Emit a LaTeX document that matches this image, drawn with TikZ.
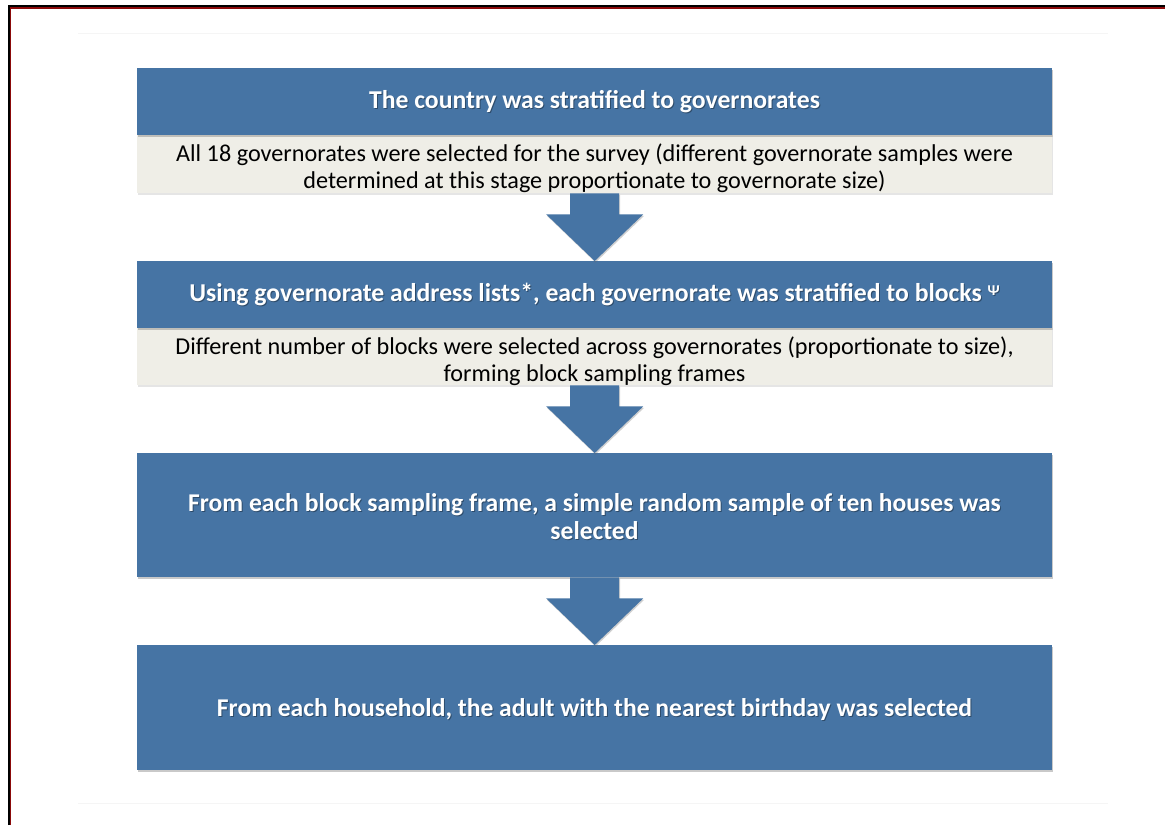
\documentclass[tikz,border=0pt]{standalone}
\usepackage{fontspec}
\setmainfont{Carlito}
\usetikzlibrary{shadows,calc}
\definecolor{boxblue}{HTML}{4674A4}
\definecolor{boxlight}{HTML}{EFEEE7}
\definecolor{bordred}{HTML}{8B0A0A}
\tikzset{
  headbox/.style={fill=boxblue, draw=none, anchor=north west, inner sep=0pt,
    minimum width=915pt, drop shadow={shadow xshift=0.8pt, shadow yshift=-1.5pt, opacity=0.35, fill=black!60}},
  subbox/.style={fill=boxlight, draw=none, anchor=north west, inner sep=0pt,
    minimum width=915pt, drop shadow={shadow xshift=0.8pt, shadow yshift=-1.5pt, opacity=0.25, fill=black!40}},
  headtxt/.style={text=white, font=\bfseries\fontsize{25.7}{28}\selectfont, align=center, inner sep=0pt},
  bigtxt/.style={text=white, font=\bfseries\fontsize{25.6}{28}\selectfont, align=center, inner sep=0pt},
  shtxt/.style={text=black, opacity=0.35},
  subtxt/.style={text=black, font=\fontsize{24.2}{27}\selectfont, align=center, inner sep=0pt},
  arrowfill/.style={fill=boxblue, drop shadow={shadow xshift=0.8pt, shadow yshift=-1.5pt, opacity=0.3, fill=black!60}},
}
\newcommand\flowarrow[2]{%
  \fill[arrowfill] ($(#1.south)+(-24.5,0)$) -- ($(#1.south)+(24.5,0)$) -- ($(#1.south)+(24.5,21)$)
    -- ($(#1.south)+(48.5,21)$) -- (#2.north) -- ($(#1.south)+(-48.5,21)$) -- ($(#1.south)+(-24.5,21)$) -- cycle;}
\newcommand\psimark{\raisebox{0.45ex}{\fontsize{15}{15}\selectfont Ψ}}
\begin{document}
\begin{tikzpicture}[x=1pt,y=-1pt]
\useasboundingbox (0,0) rectangle (1165,825);
\fill[white] (0,0) rectangle (1165,825);
% page border
\draw[black, line width=2.5pt] (9,825) -- (9,6.2) -- (1165,6.2);
\draw[bordred, line width=1.2pt] (10.8,825) -- (10.8,8) -- (1165,8);
% faint lines
\draw[black!4, line width=0.8pt] (78,33) -- (1108,33);
\draw[black!4, line width=0.8pt] (78,803) -- (1108,803);

% box 1
\node[subbox, minimum height=58pt] (s1) at (137,135) {};
\node[headbox, minimum height=67pt] (h1) at (137,68) {};
\node[headtxt, shtxt] (h1s) at (595.5,102.5) {The country was stratified to governorates};
\node[headtxt] (h1t) at (594.5,101.5) {The country was stratified to governorates};
\node[subtxt] (s1t) at (594.5,168) {All 18 governorates were selected for the survey (different governorate samples were\\determined at this stage proportionate to governorate size)};

% box 2
\node[subbox, minimum height=57pt] (s2) at (137,328) {};
\node[headbox, minimum height=67pt] (h2) at (137,261) {};
\node[headtxt, shtxt] (h2s) at (595.5,295.5) {Using governorate address lists*, each governorate was stratified to blocks \psimark};
\node[headtxt] (h2t) at (594.5,294.5) {Using governorate address lists*, each governorate was stratified to blocks \psimark};
\node[subtxt] (s2t) at (594.5,361) {Different number of blocks were selected across governorates (proportionate to size),\\forming block sampling frames};

% box 3
\node[headbox, minimum height=124pt] (b3) at (137,453) {};
\node[bigtxt, shtxt] (b3s) at (595.5,518) {From each block sampling frame, a simple random sample of ten houses was\\selected};
\node[bigtxt] (b3t) at (594.5,517) {From each block sampling frame, a simple random sample of ten houses was\\selected};

% box 4
\node[headbox, minimum height=125pt] (b4) at (137,645) {};
\node[bigtxt, shtxt] (b4s) at (595.5,710.5) {From each household, the adult with the nearest birthday was selected};
\node[bigtxt] (b4t) at (594.5,709.5) {From each household, the adult with the nearest birthday was selected};

% arrows
\flowarrow{s1}{h2}
\flowarrow{s2}{b3}
\flowarrow{b3}{b4}
\end{tikzpicture}
\end{document}
